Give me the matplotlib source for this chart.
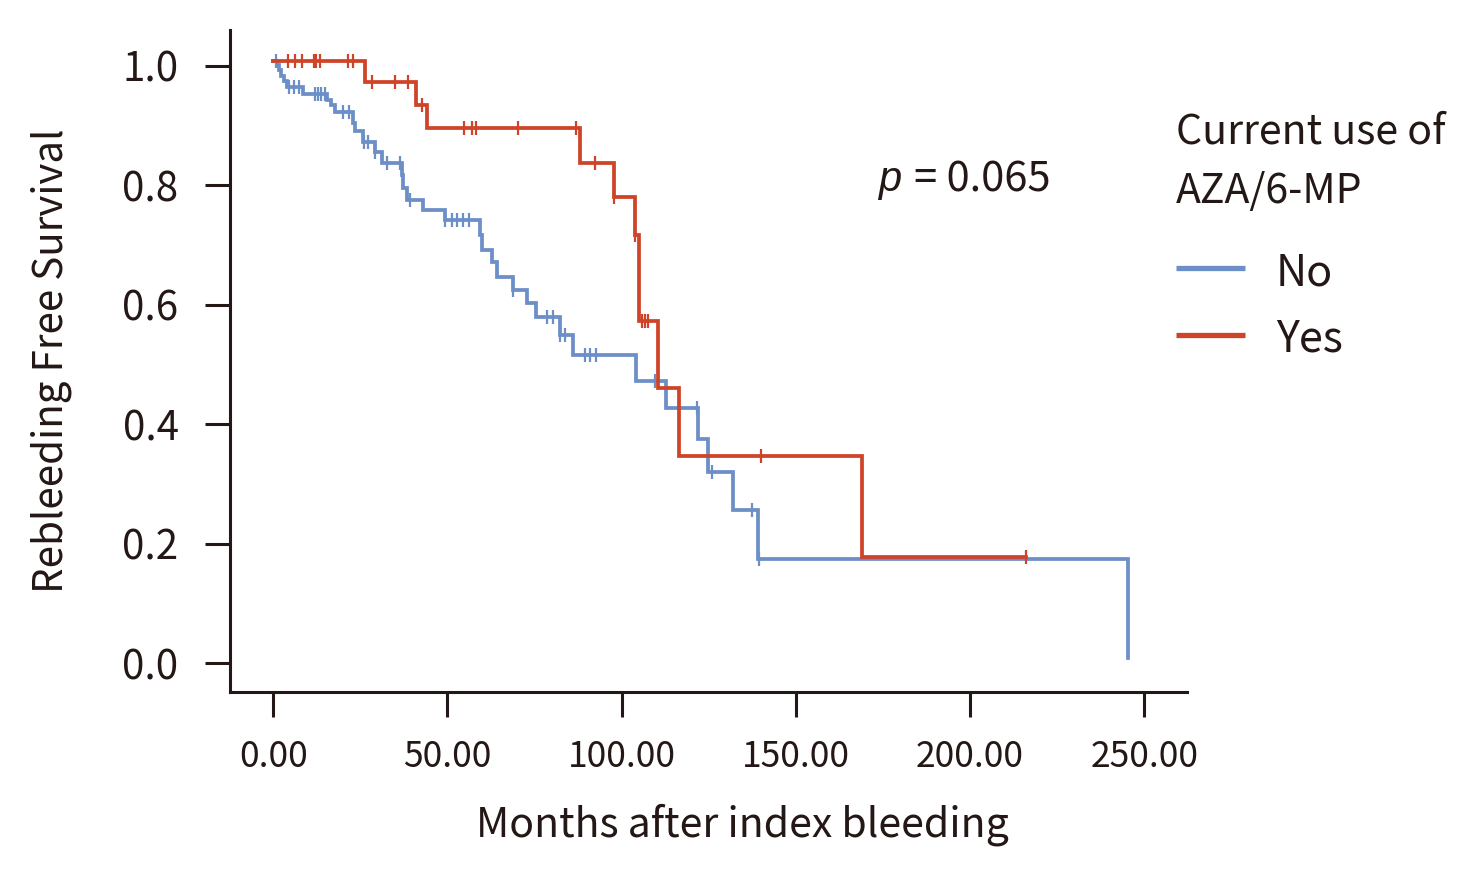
import numpy as np
import matplotlib
matplotlib.use('Agg')
import matplotlib.pyplot as plt
import matplotlib.transforms as mtransforms
from matplotlib.lines import Line2D

plt.rcParams['font.family'] = ['Noto Sans CJK KR', 'DejaVu Sans']

# Kaplan-Meier steps: (event time, survival after event)
no_times = [1.15, 1.8, 2.3, 3.1, 4.0, 8.5, 15.5, 16.7, 17.6, 22.8, 23.4, 25.7, 29.2, 31.1,
            36.9, 37.3, 38.3, 43.1, 49.3, 59.3, 59.8, 62.7, 64.3, 68.9, 72.8, 75.4, 82.3,
            86.0, 104.1, 112.7, 121.8, 124.9, 132.1, 139.2, 245.2]
no_surv = [0.993, 0.985, 0.975, 0.966, 0.957, 0.944, 0.935, 0.926, 0.915, 0.896, 0.882, 0.865,
           0.848, 0.830, 0.809, 0.787, 0.768, 0.750, 0.734, 0.709, 0.684, 0.664, 0.639, 0.617,
           0.594, 0.572, 0.541, 0.508, 0.465, 0.419, 0.367, 0.312, 0.249, 0.166, 0.0]
no_censor = [0.8, 4.4, 5.9, 7.3, 11.9, 12.8, 13.8, 14.8, 20.0, 21.9, 26.0, 27.3, 29.2, 32.6,
             36.4, 39.2, 49.3, 51.2, 52.8, 54.5, 56.2, 68.9, 78.5, 80.4, 82.3, 83.7, 89.5,
             90.9, 92.7, 109.6, 121.6, 125.9, 137.5, 139.5]

yes_times = [26.3, 41.0, 44.0, 88.1, 97.8, 103.8, 105.1, 110.5, 116.6, 168.9]
yes_surv = [0.965, 0.926, 0.887, 0.830, 0.773, 0.709, 0.565, 0.453, 0.338, 0.170]
yes_censor = [4.3, 6.2, 8.3, 11.6, 12.4, 13.3, 21.5, 23.0, 28.3, 34.9, 38.8, 42.8, 54.8, 57.1,
              58.2, 70.3, 86.8, 92.4, 97.8, 103.8, 105.8, 106.7, 107.7, 140.0, 216.1]

groups = ['No', 'Yes']
legend_title = ['Current use of', 'AZA/6-MP']
p_text = '= 0.065'

ink = '#231815'
blue = '#6b8fc6'
red = '#cf4329'

W, H = 1478, 876
fig = plt.figure(figsize=(W/100, H/100), dpi=100)
ax = fig.add_axes([0.1556, 0.2104, 0.6474, 0.7554])

# curves sit a few pixels above their values in the original
shift = mtransforms.ScaledTranslation(0, 5/100, fig.dpi_scale_trans)
trans = ax.transData + shift

def km_curve(times, surv, censor, color):
	t = np.concatenate([[0.0], times])
	s = np.concatenate([[1.0], surv])
	end = max(t[-1], max(censor))
	t_plot = np.append(t, end)
	s_plot = np.append(s, s[-1])
	ax.step(t_plot, s_plot, where='post', color=color, lw=2.7, transform=trans,
	        solid_joinstyle='miter')
	idx = np.searchsorted(t, censor, side='right')-1
	ax.plot(censor, s[idx], ls='none', marker='|', ms=10, mew=1.6, color=color, transform=trans)

km_curve(no_times, no_surv, no_censor, blue)
km_curve(yes_times, yes_surv, yes_censor, red)

ax.set_xlim(-12.4, 262.2)
ax.set_ylim(-0.0476, 1.0603)
ax.set_xticks([0, 50, 100, 150, 200, 250])
ax.set_xticklabels([f'{v:.2f}' for v in [0, 50, 100, 150, 200, 250]])
ax.set_yticks([0.0, 0.2, 0.4, 0.6, 0.8, 1.0])
ax.set_yticklabels([f'{v:.1f}' for v in [0.0, 0.2, 0.4, 0.6, 0.8, 1.0]])

for side in ['top', 'right']:
	ax.spines[side].set_visible(False)
for side in ['left', 'bottom']:
	ax.spines[side].set_linewidth(2.2)
	ax.spines[side].set_color(ink)
ax.tick_params(axis='both', direction='out', length=18, width=2.2, color=ink, labelcolor=ink)
ax.tick_params(axis='x', labelsize=25.5, pad=16)
ax.tick_params(axis='y', labelsize=29, pad=19)

ax.set_xlabel('Months after index bleeding', fontsize=29.5, color=ink)
ax.xaxis.set_label_coords(0.536, -0.168)
ax.set_ylabel('Rebleeding Free Survival', fontsize=29, color=ink)
ax.yaxis.set_label_coords(-0.165, 0.5)

# p value
fig.text(878/W, 1-180/H, 'p', fontsize=30, color=ink, style='italic',
         family=['Liberation Sans', 'DejaVu Sans'], va='center', ha='left')
fig.text(914/W, 1-180/H, p_text, fontsize=30, color=ink, va='center', ha='left')

# legend drawn by hand
fig.text(1176/W, 1-143/H, legend_title[0], fontsize=29.5, color=ink, va='baseline', ha='left')
fig.text(1176/W, 1-203/H, legend_title[1], fontsize=29.5, color=ink, va='baseline', ha='left')
for i, (name, col) in enumerate(zip(groups, [blue, red])):
	yc = 268 + i*67
	fig.add_artist(Line2D([1176/W, 1245/W], [1-yc/H, 1-yc/H], color=col, lw=3.8,
	                      transform=fig.transFigure, solid_capstyle='butt'))
	fig.text(1276/W, 1-(yc+17)/H, name, fontsize=31, color=ink, va='baseline', ha='left')

fig.savefig('out.png', dpi=100)
